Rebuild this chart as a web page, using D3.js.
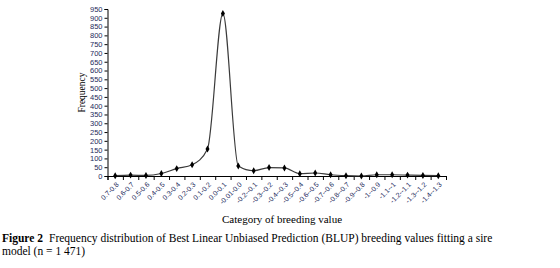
<!DOCTYPE html>
<html>
<head>
<meta charset="utf-8">
<script src="https://cdn.jsdelivr.net/npm/d3@7"></script>
<style>
  body { margin: 0; background: #fff; }
  svg { display: block; }
</style>
</head>
<body>
<div id="chart"></div>
<script>
// categories of breeding value (as printed on the x axis)
const categories = ['0.7-0.8', '0.6-0.7', '0.5-0.6', '0.4-0.5', '0.3-0.4', '0.2-0.3',
  '0.1-0.2', '0.0-0.1', '-0.01-0.0', '-0.2--0.1', '-0.3--0.2', '-0.4--0.3',
  '-0.5--0.4', '-0.6--0.5', '-0.7--0.6', '-0.8--0.7', '-0.9--0.8', '-1--0.9',
  '-1.1--1', '-1.2--1.1', '-1.3--1.2', '-1.4--1.3'];
// frequency in each category
const frequency = [2, 5, 3, 14, 42, 64, 154, 925, 57, 30, 48, 46,
  13, 17, 7, 2, 0, 7, 7, 5, 3, 2];
const yTicks = d3.range(0, 951, 50);

const W = 560, H = 268;
const margin = { left: 107.5, right: 114, top: 9, bottom: 92 };

const svg = d3.select('#chart').append('svg')
  .attr('width', W).attr('height', H);

const x = d3.scaleBand()
  .domain(categories)
  .range([margin.left, W - margin.right])
  .padding(0);

const y = d3.scaleLinear()
  .domain([0, 950])
  .range([H - margin.bottom, margin.top]);

const data = categories.map((c, i) => ({ c, v: frequency[i] }));

// y axis
const yAxis = svg.append('g')
  .attr('transform', `translate(${margin.left},0)`)
  .call(d3.axisLeft(y).tickValues(yTicks).tickSize(3).tickPadding(2));
yAxis.selectAll('text')
  .attr('font-family', 'Liberation Sans, Arial, sans-serif')
  .attr('font-size', 7.5)
  .attr('fill', '#1d2b5c');

// x axis: ticks at category boundaries
const xEdges = d3.scaleLinear().domain([0, categories.length])
  .range([margin.left, W - margin.right]);
svg.append('g')
  .attr('transform', `translate(0,${y(0)})`)
  .call(d3.axisBottom(xEdges).tickValues(d3.range(categories.length + 1))
    .tickSize(4).tickFormat(''));

// x labels, rotated
const xLab = svg.append('g')
  .attr('transform', `translate(0,${y(0)})`)
  .call(d3.axisBottom(x).tickSize(0).tickPadding(0));
xLab.select('.domain').remove();
xLab.selectAll('text')
  .attr('font-family', 'Liberation Sans, Arial, sans-serif')
  .attr('font-size', 7)
  .attr('fill', '#1d2b5c')
  .attr('text-anchor', 'end')
  .attr('dy', 0)
  .attr('transform', 'translate(4,9) rotate(-45)');

svg.selectAll('.domain, .tick line').attr('stroke', '#000');

// smoothed line
const line = d3.line()
  .x(d => x(d.c) + x.bandwidth() / 2)
  .y(d => y(d.v))
  .curve(d3.curveMonotoneX);

svg.append('path')
  .datum(data)
  .attr('fill', 'none')
  .attr('stroke', '#3a3a3a')
  .attr('stroke-width', 1.2)
  .attr('d', line);

// markers
svg.selectAll('.pt')
  .data(data)
  .join('path')
  .attr('class', 'pt')
  .attr('d', d3.symbol(d3.symbolDiamond, 14))
  .attr('transform', d => `translate(${x(d.c) + x.bandwidth() / 2},${y(d.v)})`)
  .attr('fill', '#000');

// axis titles
svg.append('text')
  .attr('transform', `translate(85,${(y(0) + y(950)) / 2}) rotate(-90)`)
  .attr('text-anchor', 'middle')
  .attr('font-family', 'Liberation Serif, Times New Roman, serif')
  .attr('font-size', 9.5)
  .text('Frequency');

svg.append('text')
  .attr('x', 282)
  .attr('y', 223)
  .attr('text-anchor', 'middle')
  .attr('font-family', 'Liberation Serif, Times New Roman, serif')
  .attr('font-size', 11)
  .text('Category of breeding value');

// caption
const cap = svg.append('text')
  .attr('font-family', 'Liberation Serif, Times New Roman, serif')
  .attr('font-size', 11.5);
const l1 = cap.append('tspan').attr('x', 2).attr('y', 242);
l1.append('tspan').attr('font-weight', 'bold').text('Figure 2');
l1.append('tspan').attr('dx', 6)
  .text('Frequency distribution of Best Linear Unbiased Prediction (BLUP) breeding values fitting a sire');
cap.append('tspan').attr('x', 2).attr('y', 255).text('model (n = 1 471)');
</script>
</body>
</html>
